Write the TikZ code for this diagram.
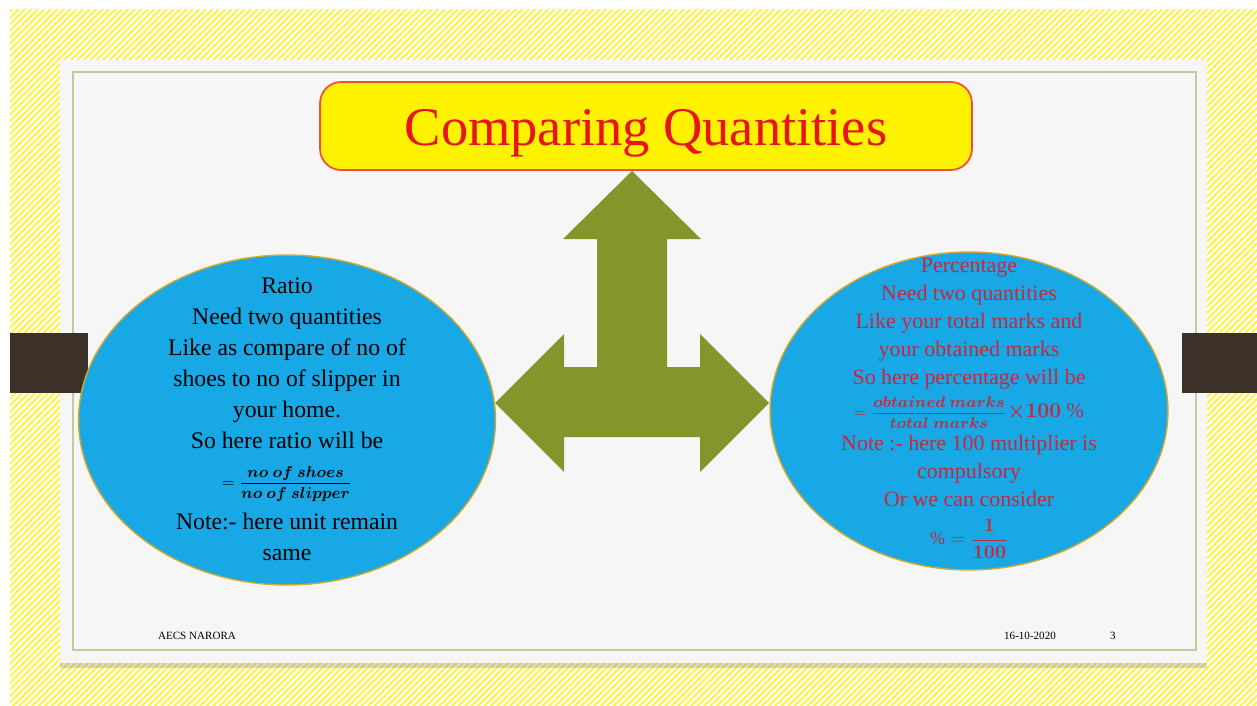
\documentclass[tikz,border=0pt]{standalone}
\usepackage{fontspec}
\setmainfont{Liberation Serif}
\usepackage{amsmath,bm}
\usetikzlibrary{shapes.geometric,patterns.meta,shadows}

\definecolor{stripe}{HTML}{FFF23A}
\definecolor{slidebg}{HTML}{F6F6F6}
\definecolor{frameline}{HTML}{C2CC9A}
\definecolor{tabbrown}{HTML}{3B3128}
\definecolor{titlered}{HTML}{E8141B}
\definecolor{titleedge}{HTML}{F0503A}
\definecolor{bubblefill}{HTML}{19A8E6}
\definecolor{bubbleedge}{HTML}{D4A82A}
\definecolor{pcred}{HTML}{C4283C}
\definecolor{olive}{HTML}{82962C}

\newcommand{\smallmath}[1]{{\fontsize{9.5}{11}\selectfont$#1$}}

\begin{document}
\begin{tikzpicture}[x=0.02cm,y=-0.02cm,
	bubble/.style={ellipse,draw=bubbleedge,fill=bubblefill,line width=0.8pt},
	bubbletext/.style={align=center,inner sep=0pt},
	tab/.style={fill=tabbrown},
	footer/.style={font=\fontsize{6.3}{7}\selectfont,inner sep=0pt}]

	\useasboundingbox (0,0) rectangle (1257,706);

	% background and slide
	\fill[white] (0,0) rectangle (1257,706);
	\fill[pattern={Lines[angle=45,distance=2.6pt,line width=1.1pt]},pattern color=stripe] (10,10) rectangle (1257,706);
	\fill[slidebg,drop shadow={shadow xshift=0pt,shadow yshift=-3pt,opacity=0.3}] (60,60) rectangle (1207,663);
	\draw[frameline,line width=1.6pt] (73,72) rectangle (1196,650);
	\fill[tab] (10,333) rectangle (88,393);
	\fill[tab] (1182,333) rectangle (1257,393);

	% title
	\node (title) [draw=titleedge,fill=yellow,line width=1pt,rounded corners=12pt,
		minimum width=13.04cm,minimum height=1.76cm] at (646,126) {};
	\node (titletext) [text=titlered,font=\fontsize{31}{34}\selectfont,inner sep=0pt]
		at (646,133) {Comparing Quantities};

	% three way arrow
	\fill[olive] (632,171) -- (701,239) -- (667,239) -- (667,367) -- (700,367) -- (700,334)
		-- (769,403) -- (700,472) -- (700,437) -- (564,437) -- (564,472) -- (495,403)
		-- (564,334) -- (564,367) -- (597,367) -- (597,239) -- (563,239) -- cycle;

	% ratio
	\node (ratio) [bubble,minimum width=8.34cm,minimum height=6.6cm] at (287,420) {};
	\node (ratiotext) [bubbletext,font=\fontsize{13.5}{17.6}\selectfont] at (287,419) {Ratio\\
		Need two quantities\\
		Like as compare of no of\\
		shoes to no of slipper in\\
		your home.\\
		So here ratio will be\\[5pt]
		\smallmath{=\dfrac{\bm{no\ of\ shoes}}{\bm{no\ of\ slipper}}}\\[6pt]
		Note:- here unit remain\\
		same};

	% percentage
	\node (percent) [bubble,minimum width=7.96cm,minimum height=6.36cm] at (969,411) {};
	\node (percenttext) [bubbletext,text=pcred,font=\fontsize{12.5}{15.9}\selectfont] at (969,408) {Percentage\\
		Need two quantities\\
		Like your total marks and\\
		your obtained marks\\
		So here percentage will be\\[3pt]
		\smallmath{=\dfrac{\bm{obtained\ marks}}{\bm{total\ marks}}}{\fontsize{12}{14}\selectfont$\bm{\times 100\ \%}$}\\[3pt]
		Note :- here 100 multiplier is\\
		compulsory\\
		Or we can consider\\[6pt]
		{\fontsize{10.5}{12}\selectfont$\%=\dfrac{\bm{1}}{\bm{100}}$}};

	% footer
	\node (school) [footer] at (197,636) {AECS NARORA};
	\node (date) [footer] at (1030,636) {16-10-2020};
	\node (page) [footer] at (1113,636) {3};
\end{tikzpicture}
\end{document}
